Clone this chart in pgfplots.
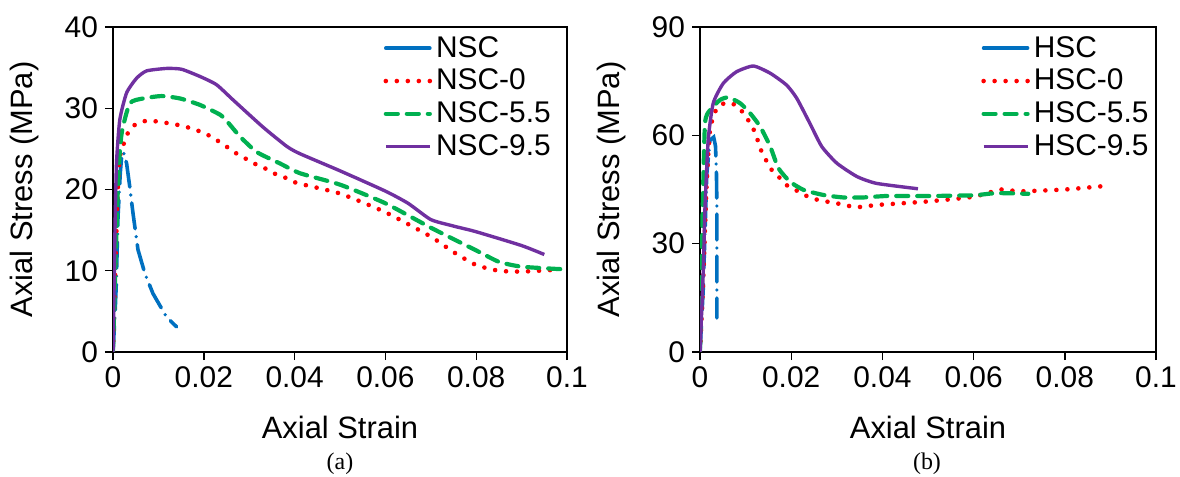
\documentclass[border=0pt]{standalone}
\usepackage{fontspec}
\setmainfont{Liberation Sans}
\newfontfamily\capfont{Liberation Serif}
\usepackage{pgfplots}
\pgfplotsset{compat=1.18}

\definecolor{cNSC}{RGB}{0,112,192}
\definecolor{cZero}{RGB}{255,0,0}
\definecolor{cFive}{RGB}{0,176,80}
\definecolor{cNine}{RGB}{112,48,160}

\pgfplotsset{
  stressaxis/.style={
    scale only axis,
    width=227bp, height=162.5bp,
    xmin=0, xmax=0.1,
    ymin=0,
    xtick={0,0.02,0.04,0.06,0.08,0.1},
    scaled x ticks=false,
    xticklabel style={/pgf/number format/fixed,/pgf/number format/precision=2},
    /pgf/number format/assume math mode=true,
    tick align=outside, tick pos=left,
    major tick length=4bp,
    axis line style={line width=0.7bp},
    tick style={line width=0.7bp,black},
    ticklabel style={font=\fontsize{15}{17}\selectfont},
    xlabel={Axial Strain}, ylabel={Axial Stress (MPa)},
    every axis x label/.style={at={(axis description cs:0.5,-0.231)},anchor=center,
      font=\fontsize{15.5}{18}\selectfont},
    every axis y label/.style={at={(axis description cs:-0.194,0.5)},rotate=90,anchor=center,
      font=\fontsize{15.5}{18}\selectfont},
    legend style={draw=none,fill=none,font=\fontsize{15}{17}\selectfont,
      anchor=north west,row sep=0.5bp,inner sep=0pt,
      /tikz/every even column/.append style={column sep=2bp}},
    legend cell align=left,
    legend image code/.code={\draw[#1] (0bp,0bp) -- (22bp,0bp);},
  },
  sNSC/.style={color=cNSC,line width=1.8bp,line cap=round,dash pattern=on 13bp off 4bp on 0bp off 4bp},
  sZero/.style={color=cZero,line width=2.3bp,line cap=round,dash pattern=on 0bp off 5.5bp,smooth,tension=0.35},
  sFive/.style={color=cFive,line width=2.1bp,line cap=round,dash pattern=on 6bp off 4.5bp,smooth,tension=0.35},
  sNine/.style={color=cNine,line width=1.7bp,line join=round,smooth,tension=0.35},
}

\begin{document}
\begin{tikzpicture}
\path[use as bounding box] (0bp,0bp) rectangle (590bp,238.5bp);

% (a) normal strength concrete
\begin{axis}[stressaxis, at={(56.5bp,62.5bp)}, anchor=south west,
  ymax=40, ytick={0,10,20,30,40},
  legend style={at={(axis description cs:0.595,0.985)}}]
\addlegendimage{color=cNSC,line width=1.8bp,line cap=round}
\addlegendentry{NSC}
\addplot[sNSC, forget plot] coordinates {
  (0,0) (0.0004,4) (0.0007,8) (0.0011,16.6) (0.0016,22) (0.0019,24) (0.0023,24.6)
  (0.0030,23.2) (0.0037,20.3) (0.0044,17.1) (0.0055,12.6) (0.0070,9.7)
  (0.0088,7.2) (0.0118,4.3) (0.0140,3.1)
};
\addplot[sZero] coordinates {
  (0,0) (0.0005,10) (0.0010,19) (0.0015,24) (0.0034,27.1) (0.0052,28.1)
  (0.0078,28.5) (0.0104,28.3) (0.0129,28.1) (0.0155,27.8) (0.0179,27.4)
  (0.0203,26.9) (0.0225,26.2) (0.0247,25.4) (0.0267,24.6) (0.0289,23.9)
  (0.0311,23.2) (0.0335,22.6) (0.0358,21.9) (0.0382,21.4) (0.0405,20.8)
  (0.050,19.5) (0.060,17.2) (0.070,14.2) (0.075,12.3) (0.080,10.7)
  (0.085,10.0) (0.090,9.9) (0.097,10.1)
};
\addlegendentry{NSC-0}
\addplot[sFive] coordinates {
  (0,0) (0.0006,12) (0.0012,22) (0.0019,26.9) (0.0037,30.6) (0.0066,31.2)
  (0.0107,31.5) (0.0148,31.2) (0.0192,30.4) (0.0236,29.2) (0.0254,28.2)
  (0.0280,26.5) (0.0317,24.6) (0.0368,23.2) (0.0412,22.0) (0.050,20.6)
  (0.060,18.3) (0.070,15.3) (0.080,12.5) (0.085,11.1) (0.090,10.5) (0.0985,10.2)
};
\addlegendentry{NSC-5.5}
\addplot[sNine] coordinates {
  (0,0) (0.0003,10) (0.0005,17) (0.0008,23.6) (0.0015,28.6) (0.0030,31.9)
  (0.0052,33.7) (0.0074,34.6) (0.0118,34.9) (0.0151,34.8) (0.0192,33.9)
  (0.0228,32.9) (0.0265,31.0) (0.0330,27.7) (0.0383,25.3) (0.0412,24.4)
  (0.050,22.3) (0.060,19.8) (0.065,18.3) (0.070,16.3) (0.075,15.5)
  (0.080,14.8) (0.090,13.1) (0.095,12.0)
};
\addlegendentry{NSC-9.5}
\end{axis}

% (b) high strength concrete
\begin{axis}[stressaxis, at={(350bp,62.5bp)}, anchor=south west, width=228bp,
  ymax=90, ytick={0,30,60,90},
  legend style={at={(axis description cs:0.616,0.985)}}]
\addlegendimage{color=cNSC,line width=1.8bp,line cap=round}
\addlegendentry{HSC}
\addplot[sNSC, forget plot] coordinates {
  (0,0) (0.0007,17.2) (0.0015,49.5) (0.0022,58.7) (0.0030,59.5) (0.0034,57)
  (0.0036,50) (0.0037,40.7) (0.0037,33.8) (0.0037,22.7) (0.0037,16.7) (0.0037,9.4)
};
\addplot[sZero] coordinates {
  (0,0) (0.0007,19.9) (0.0014,45) (0.0022,61.5) (0.0037,67.5) (0.0059,69.1)
  (0.0084,67.9) (0.0113,62.8) (0.0124,59.6) (0.0132,56.4) (0.0143,53.6)
  (0.0154,50.9) (0.0172,48.6) (0.0190,46.2) (0.0212,44.7) (0.0234,43.2)
  (0.0259,42.1) (0.0285,41.5) (0.0311,40.9) (0.0336,40.2) (0.0358,40.2)
  (0.0384,40.7) (0.0410,40.9) (0.050,41.7) (0.060,43.0) (0.066,45.0)
  (0.070,44.5) (0.080,45.0) (0.089,46.0)
};
\addlegendentry{HSC-0}
\addplot[sFive] coordinates {
  (0,0) (0.0006,40) (0.0011,63.3) (0.0022,67) (0.0044,69.8) (0.0062,70.5)
  (0.0088,68.9) (0.0110,66.1) (0.0132,62.4) (0.0154,56.9) (0.0172,50.9)
  (0.0197,47.2) (0.0227,44.9) (0.0270,43.5) (0.0314,42.8) (0.0358,42.8)
  (0.0410,43.2) (0.050,43.2) (0.060,43.4) (0.065,44.0) (0.072,43.8)
};
\addlegendentry{HSC-5.5}
\addplot[sNine] coordinates {
  (0,0) (0.0007,21.8) (0.0011,40.2) (0.0018,58.7) (0.0029,68.9) (0.0051,74.4)
  (0.0080,77.6) (0.0117,79.2) (0.0154,77.2) (0.0190,73.9) (0.0212,70.3)
  (0.0241,63.3) (0.0267,56.9) (0.0300,52.3) (0.0344,48.6) (0.0387,46.7)
  (0.0478,45.2)
};
\addlegendentry{HSC-9.5}
\end{axis}

\node[font=\capfont\fontsize{12}{14}\selectfont] at (170bp,6.5bp) {(a)};
\node[font=\capfont\fontsize{12}{14}\selectfont] at (463.5bp,6.5bp) {(b)};
\end{tikzpicture}
\end{document}
